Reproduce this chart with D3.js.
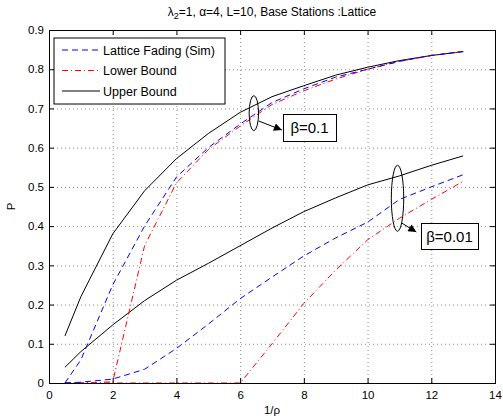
<!DOCTYPE html>
<html lang="en">
<head>
<meta charset="UTF-8">
<title>lattice</title>
<style>
  body { margin: 0; background: #fff; }
  text { font-family: "Liberation Sans", Arial, sans-serif; }
</style>
</head>
<body>
<script src="https://cdn.jsdelivr.net/npm/d3@7"></script>
<script>
const width = 503, height = 419;
const margin = {top: 30, right: 8, bottom: 36, left: 49};

// data
const xs = [0.5, 1, 2, 3, 4, 5, 6, 7, 8, 9, 10, 11, 12, 13];
const simHigh   = [0, 0.059, 0.25, 0.40, 0.525, 0.60, 0.66, 0.715, 0.75, 0.78, 0.80, 0.82, 0.835, 0.845];
const lowerHigh = [0, 0, 0.003, 0.35, 0.51, 0.595, 0.655, 0.71, 0.745, 0.775, 0.80, 0.82, 0.835, 0.845];
const upperHigh = [0.12, 0.22, 0.38, 0.49, 0.572, 0.636, 0.69, 0.73, 0.758, 0.785, 0.805, 0.822, 0.835, 0.845];
const simLow    = [0, 0.002, 0.01, 0.035, 0.088, 0.15, 0.215, 0.27, 0.324, 0.37, 0.41, 0.468, 0.50, 0.531];
const lowerLow  = [0, 0, 0, 0, 0, 0, 0, 0.10, 0.203, 0.288, 0.365, 0.42, 0.468, 0.514];
const upperLow  = [0.04, 0.08, 0.148, 0.21, 0.262, 0.305, 0.35, 0.395, 0.437, 0.472, 0.505, 0.528, 0.555, 0.579];
const xTicks = [0, 2, 4, 6, 8, 10, 12, 14];
const yTicks = [0, 0.1, 0.2, 0.3, 0.4, 0.5, 0.6, 0.7, 0.8, 0.9];
const legendNames = ['Lattice Fading (Sim)', 'Lower Bound', 'Upper Bound'];

const styles = [
  {color: 'blue', dash: '6,4'},
  {color: 'red', dash: '6,3,1,3'},
  {color: 'black', dash: null}
];

const svg = d3.select('body').append('svg')
  .attr('width', width).attr('height', height);

const x = d3.scaleLinear().domain([0, 14]).range([margin.left, width - margin.right]);
const y = d3.scaleLinear().domain([0, 0.9]).range([height - margin.bottom, margin.top]);

// grid
const grid = svg.append('g').attr('stroke', '#888').attr('stroke-dasharray', '1,3').attr('stroke-width', 1);
grid.selectAll('.gx').data(xTicks.slice(1, -1)).enter().append('line')
  .attr('x1', d => x(d) + 0.5).attr('x2', d => x(d) + 0.5)
  .attr('y1', y(0)).attr('y2', y(0.9));
grid.selectAll('.gy').data(yTicks.slice(1, -1)).enter().append('line')
  .attr('y1', d => y(d) + 0.5).attr('y2', d => y(d) + 0.5)
  .attr('x1', x(0)).attr('x2', x(14));

// axes
const fs = '11.5px';
svg.append('g').attr('transform', `translate(0,${y(0)})`)
  .call(d3.axisBottom(x).tickValues(xTicks).tickSize(-5).tickPadding(8).tickSizeOuter(0));
svg.append('g').attr('transform', `translate(${x(0)},0)`)
  .call(d3.axisLeft(y).tickValues(yTicks).tickFormat(d => d === 0 ? '0' : d3.format('.1f')(d)).tickSize(-5).tickPadding(5).tickSizeOuter(0));
svg.append('g').attr('transform', `translate(0,${y(0.9)})`)
  .call(d3.axisTop(x).tickValues(xTicks).tickSize(-5).tickFormat('').tickSizeOuter(0));
svg.append('g').attr('transform', `translate(${x(14)},0)`)
  .call(d3.axisRight(y).tickValues(yTicks).tickSize(-5).tickFormat('').tickSizeOuter(0));
svg.selectAll('.domain').attr('stroke', 'none');
svg.selectAll('.tick text').attr('font-size', fs).attr('font-family', '"Liberation Sans", Arial, sans-serif').attr('fill', '#000');
svg.selectAll('.tick line').attr('stroke', '#000');

// series
const line = d3.line().x((d, i) => x(xs[i])).y(d => y(d));
const series = [
  {v: upperHigh, s: 2}, {v: upperLow, s: 2},
  {v: lowerHigh, s: 1}, {v: lowerLow, s: 1},
  {v: simHigh, s: 0}, {v: simLow, s: 0}
];
svg.append('g').selectAll('path').data(series).enter().append('path')
  .attr('d', d => line(d.v))
  .attr('fill', 'none')
  .attr('stroke', d => styles[d.s].color)
  .attr('stroke-width', 1)
  .attr('stroke-dasharray', d => styles[d.s].dash);

// frame
svg.append('rect')
  .attr('x', x(0) + 0.5).attr('y', y(0.9) + 0.5)
  .attr('width', x(14) - x(0)).attr('height', y(0) - y(0.9))
  .attr('fill', 'none').attr('stroke', '#000');

// legend
const lg = svg.append('g').attr('transform', 'translate(54,38)');
lg.append('rect').attr('width', 171).attr('height', 66)
  .attr('fill', '#fff').attr('stroke', '#000');
legendNames.forEach((n, i) => {
  const ly = 12 + i * 20.5;
  lg.append('line').attr('x1', 8).attr('x2', 46).attr('y1', ly).attr('y2', ly)
    .attr('stroke', styles[i].color).attr('stroke-dasharray', styles[i].dash);
  lg.append('text').attr('x', 49).attr('y', ly + 4.5).attr('font-size', '12.5px').text(n);
});

// annotations
svg.append('defs').append('marker')
  .attr('id', 'ah').attr('viewBox', '0 0 10 10').attr('refX', 10).attr('refY', 5)
  .attr('markerWidth', 10).attr('markerHeight', 8).attr('orient', 'auto')
  .attr('markerUnits', 'userSpaceOnUse')
  .append('path').attr('d', 'M0,0 L10,5 L0,10 z').attr('fill', '#000');

const notes = [
  {cx: 6.43, cy: 0.688, rx: 4.7, ry: 17.5, ax: [6.58, 0.668], bx: [7.31, 0.645], box: [283, 114, 53, 27], label: 'β=0.1'},
  {cx: 10.94, cy: 0.471, rx: 6.2, ry: 33, ax: [11.07, 0.408], bx: [11.53, 0.385], box: [421, 223, 57, 26], label: 'β=0.01'}
];
notes.forEach(n => {
  svg.append('ellipse').attr('cx', x(n.cx)).attr('cy', y(n.cy)).attr('rx', n.rx).attr('ry', n.ry)
    .attr('fill', 'none').attr('stroke', '#000');
  svg.append('line').attr('x1', x(n.ax[0])).attr('y1', y(n.ax[1]))
    .attr('x2', x(n.bx[0])).attr('y2', y(n.bx[1]))
    .attr('stroke', '#000').attr('marker-end', 'url(#ah)');
  svg.append('rect').attr('x', n.box[0] + 0.5).attr('y', n.box[1] + 0.5)
    .attr('width', n.box[2]).attr('height', n.box[3])
    .attr('fill', '#fff').attr('stroke', '#000');
  svg.append('text').attr('x', n.box[0] + n.box[2] / 2).attr('y', n.box[1] + n.box[3] / 2 + 5.5)
    .attr('text-anchor', 'middle').attr('font-size', '15px').text(n.label);
});

// titles
const t = svg.append('text').attr('x', (x(0) + x(14)) / 2).attr('y', 16)
  .attr('text-anchor', 'middle').attr('font-size', '12px');
t.append('tspan').text('λ');
t.append('tspan').attr('font-size', '9px').attr('dy', 3).text('2');
t.append('tspan').attr('dy', -3).text('=1, α=4, L=10, Base Stations :Lattice');

svg.append('text').attr('x', (x(0) + x(14)) / 2).attr('y', 414)
  .attr('text-anchor', 'middle').attr('font-size', '11.5px').text('1/ρ');
svg.append('text').attr('transform', `translate(15,${(y(0) + y(0.9)) / 2}) rotate(-90)`)
  .attr('text-anchor', 'middle').attr('font-size', '11.5px').text('P');
</script>
</body>
</html>
